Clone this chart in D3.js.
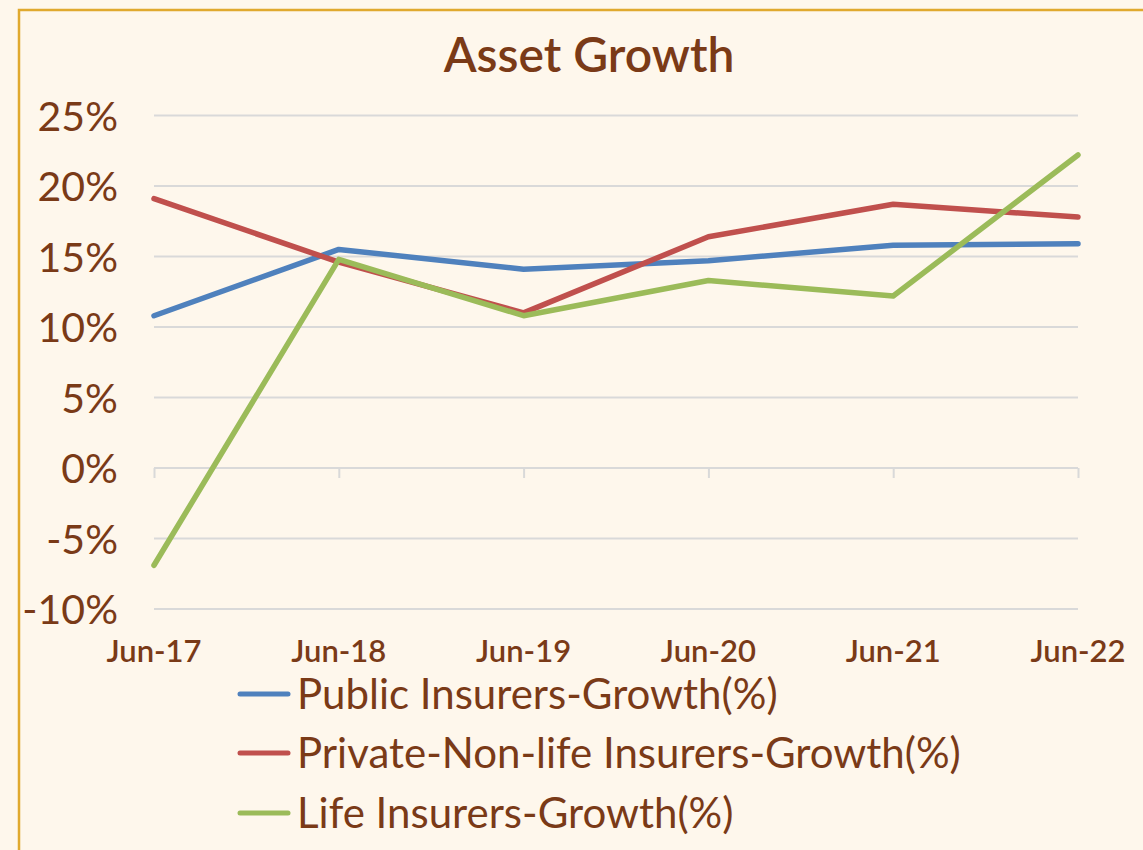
<!DOCTYPE html>
<html><head><meta charset="utf-8">
<script src="https://cdn.jsdelivr.net/npm/d3@7"></script>
<style>
html,body{margin:0;padding:0;background:#FEF7EC;}
svg{display:block;}
text{font-family:Lato, "Open Sans", sans-serif;fill:#7A3A17;}
</style></head>
<body>
<script>
const categories = ["Jun-17","Jun-18","Jun-19","Jun-20","Jun-21","Jun-22"];
const publicGrowth = [10.8, 15.5, 14.1, 14.7, 15.8, 15.9];
const privateGrowth = [19.1, 14.6, 11.0, 16.4, 18.7, 17.8];
const lifeGrowth = [-6.9, 14.8, 10.8, 13.3, 12.2, 22.2];
const seriesNames = ["Public Insurers-Growth(%)","Private-Non-life Insurers-Growth(%)","Life Insurers-Growth(%)"];
const seriesColors = ["#4F81BD","#C0504D","#9BBB59"];
const yTicks = [-10,-5,0,5,10,15,20,25];

const W = 1143, H = 850;
const svg = d3.select("body").append("svg").attr("width", W).attr("height", H);
svg.append("rect").attr("width", W).attr("height", H).attr("fill", "#FEF7EC");
svg.append("rect").attr("x", 19).attr("y", 10).attr("width", W + 10).attr("height", H + 10)
  .attr("fill", "none").attr("stroke", "#E0A92E").attr("stroke-width", 2.5);

const x = d3.scalePoint().domain(categories).range([154, 1078]);
const y = d3.scaleLinear().domain([-10, 25]).range([609, 115.5]);

svg.append("text").attr("x", 589).attr("y", 72).attr("text-anchor", "middle")
  .attr("font-size", 48).attr("font-weight", 600).text("Asset Growth");

// grid
const grid = svg.append("g");
grid.selectAll("line").data(yTicks).join("line")
  .attr("x1", 154).attr("x2", 1078)
  .attr("y1", d => y(d)).attr("y2", d => y(d))
  .attr("stroke", "#D9D9D9").attr("stroke-width", 2);

// y labels
const yAxis = d3.axisLeft(y).tickValues(yTicks).tickFormat(d => d + "%").tickSize(0).tickPadding(0);
const yg = svg.append("g").attr("transform", "translate(118,0)").call(yAxis);
yg.select(".domain").remove();
yg.selectAll("text").attr("font-size", 41).attr("fill", "#7A3A17").attr("dy", "0.36em")
  .style("font-family", "Lato, sans-serif");

// x axis at zero
const xAxis = d3.axisBottom(x).tickSize(10).tickPadding(0);
const xg = svg.append("g").attr("transform", `translate(0,${y(0)})`).call(xAxis);
xg.select(".domain").remove();
xg.selectAll(".tick line").attr("stroke", "#D9D9D9").attr("stroke-width", 2);
xg.selectAll("text").remove();
svg.append("g").selectAll("text").data(categories).join("text")
  .attr("x", d => x(d)).attr("y", 662).attr("text-anchor", "middle")
  .attr("font-size", 31).attr("font-weight", 600).text(d => d);

// lines
const allSeries = [publicGrowth, privateGrowth, lifeGrowth];
const line = d3.line().x((d, i) => x(categories[i])).y(d => y(d));
svg.append("g").selectAll("path").data(allSeries).join("path")
  .attr("d", line).attr("fill", "none")
  .attr("stroke", (d, i) => seriesColors[i]).attr("stroke-width", 5.5)
  .attr("stroke-linejoin", "round").attr("stroke-linecap", "round");

// legend
const legY = [694, 753, 813];
const leg = svg.append("g").selectAll("g").data(seriesNames).join("g")
  .attr("transform", (d, i) => `translate(0,${legY[i]})`);
leg.append("line").attr("x1", 240).attr("x2", 288).attr("y1", 0).attr("y2", 0)
  .attr("stroke", (d, i) => seriesColors[i]).attr("stroke-width", 5).attr("stroke-linecap", "round");
leg.append("text").attr("x", 297).attr("y", 0).attr("dy", "0.36em")
  .attr("font-size", 42).text(d => d);
</script>
</body></html>
